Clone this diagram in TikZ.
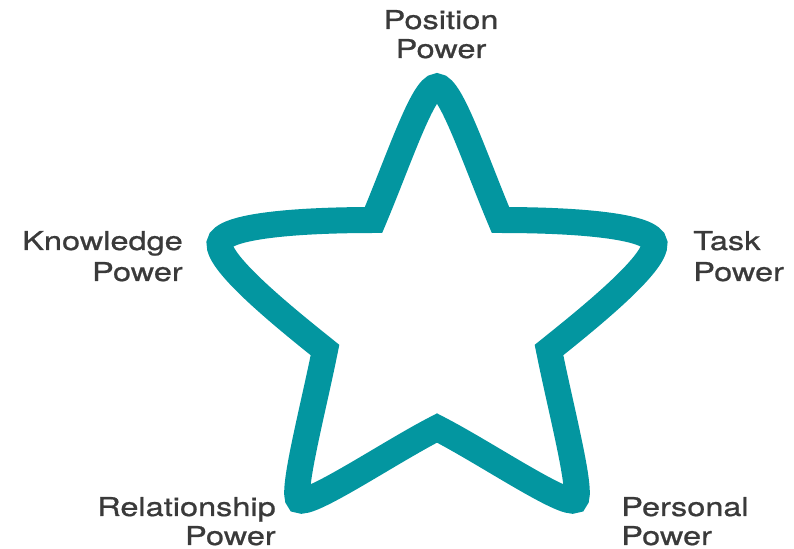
\documentclass[tikz,border=0pt]{standalone}
\usepackage{fontspec}
\setmainfont{TeX Gyre Heros}[FakeStretch=1.25,FakeBold=0.8]
\definecolor{starteal}{HTML}{0396A0}
\definecolor{labelgray}{HTML}{3A3A3A}
\begin{document}
\begin{tikzpicture}[x=0.75pt,y=-0.75pt,
  lbl/.style={inner sep=0pt, text=labelgray, font=\fontsize{19.5}{23}\selectfont},
  starline/.style={draw=starteal, line width=19.5pt, line join=miter}]
\useasboundingbox (0,0) rectangle (794,549);
% star points
\coordinate (T) at (437,86.5);
\coordinate (A) at (500.5,220);
\coordinate (R) at (654.4,243.5);
\coordinate (B) at (549,350);
\coordinate (BR) at (575,500);
\coordinate (C) at (437,428);
\coordinate (BL) at (299,500);
\coordinate (D) at (325,350);
\coordinate (L) at (219.6,243.5);
\coordinate (E) at (373.5,220);
\draw[starline] (T) .. controls (451,86.5) and (475.3,160.2) .. (A)
  .. controls (574,220) and (652.6,225.5) .. (R)
  .. controls (656.4,263.5) and (589,318) .. (B)
  .. controls (561,410) and (583.3,494.3) .. (BR)
  .. controls (565,507) and (484,452) .. (C)
  .. controls (390,452) and (309,507) .. (BL)
  .. controls (290.7,494.3) and (313,410) .. (D)
  .. controls (285,318) and (217.6,263.5) .. (L)
  .. controls (221.4,225.5) and (300,220) .. (E)
  .. controls (398.7,160.2) and (423,86.5) .. cycle;
% labels
\node[lbl, anchor=base] (pos1) at (441,29) {Position};
\node[lbl, anchor=base] (pos2) at (441,58) {Power};
\node[lbl, anchor=base east] (kno1) at (183,250) {Knowledge};
\node[lbl, anchor=base east] (kno2) at (183,281) {Power};
\node[lbl, anchor=base west] (task1) at (693,250) {Task};
\node[lbl, anchor=base west] (task2) at (693,281) {Power};
\node[lbl, anchor=base east] (rel1) at (276,516) {Relationship};
\node[lbl, anchor=base east] (rel2) at (276,545) {Power};
\node[lbl, anchor=base west] (per1) at (621,516) {Personal};
\node[lbl, anchor=base west] (per2) at (621,545) {Power};
\end{tikzpicture}
\end{document}
